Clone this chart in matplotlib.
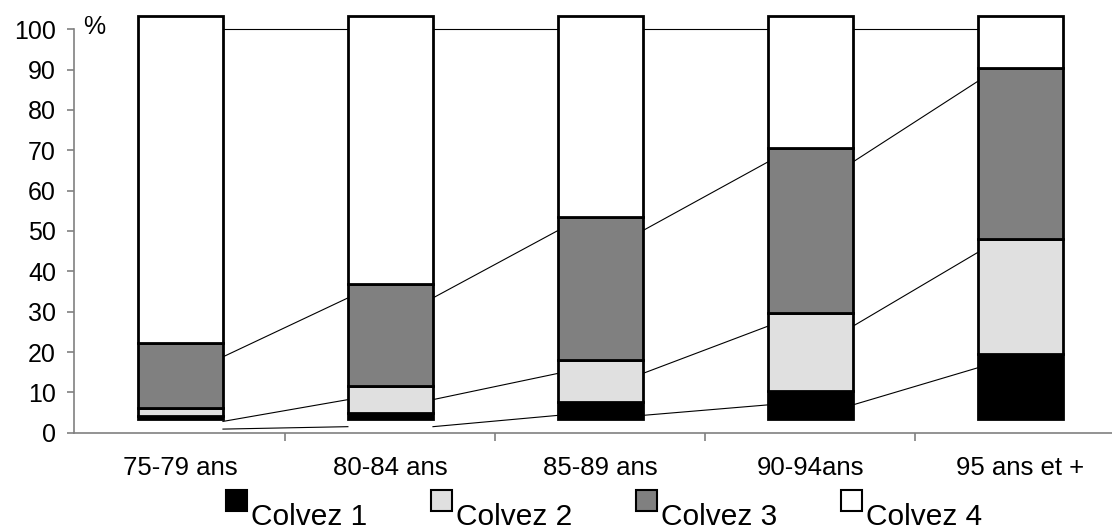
#!/usr/bin/env python3
"""Colvez dependency levels by age group, stacked bars with series lines."""

import numpy as np
import matplotlib
matplotlib.use('Agg')
import matplotlib.pyplot as plt
from matplotlib.patches import Rectangle

plt.rcParams['font.family'] = ['Liberation Sans', 'DejaVu Sans']

# Data (% per age group)
age_groups = ['75-79 ans', '80-84 ans', '85-89 ans', '90-94ans', '95 ans et +']
series_names = ['Colvez 1', 'Colvez 2', 'Colvez 3', 'Colvez 4']
colvez1 = [0.9, 1.5, 4.3, 6.9, 16.1]
colvez2 = [1.9, 6.7, 10.4, 19.5, 28.6]
colvez3 = [16.0, 25.2, 35.4, 40.7, 42.4]
colvez4 = [81.2, 66.6, 49.9, 32.9, 12.9]

# Style
COLORS = ['#000000', '#e0e0e0', '#808080', '#ffffff']
AXIS_GRAY = '#808080'
BAR_WIDTH = 0.405
DEPTH_OFFSET = 3.35   # excel draws the bars lifted off the axis


def generate():
    fig = plt.figure(figsize=(11.12, 5.29), dpi=100)
    ax = fig.add_axes([0.0665, 0.182, 0.9335, 0.801])

    values = np.array([colvez1, colvez2, colvez3, colvez4])
    x = np.arange(len(age_groups))
    cum = np.cumsum(values, axis=0)
    bottoms = cum - values

    for k in range(len(series_names)):
        ax.bar(x, values[k], width=BAR_WIDTH, bottom=bottoms[k] + DEPTH_OFFSET,
               color=COLORS[k], edgecolor='black', linewidth=2.0, zorder=3)

    # series lines between bars (at true values)
    for k in range(len(series_names)):
        for i in range(len(x) - 1):
            ax.plot([x[i] + BAR_WIDTH / 2, x[i + 1] - BAR_WIDTH / 2],
                    [cum[k][i], cum[k][i + 1]], color='black', linewidth=0.8,
                    zorder=2)

    ax.set_xlim(-0.507, 4.436)
    ax.set_ylim(0, 105)

    ax.spines['top'].set_visible(False)
    ax.spines['right'].set_visible(False)
    ax.spines['left'].set_color(AXIS_GRAY)
    ax.spines['bottom'].set_color(AXIS_GRAY)
    ax.spines['left'].set_bounds(0, 100)
    ax.spines['left'].set_linewidth(1.2)
    ax.spines['bottom'].set_linewidth(1.2)

    ax.set_yticks(np.arange(0, 101, 10))
    ax.tick_params(axis='y', direction='out', length=5, width=1.2,
                   color=AXIS_GRAY, labelsize=18, pad=8)

    ax.set_xticks(x)
    ax.set_xticklabels(age_groups, fontsize=18.5)
    ax.tick_params(axis='x', which='major', length=0, pad=17)
    ax.set_xticks(x[:-1] + 0.5, minor=True)
    ax.tick_params(axis='x', which='minor', direction='out', length=6,
                   width=1.2, color=AXIS_GRAY)

    ax.text(-0.41, 100.6, '%', fontsize=18, ha='center', va='center')

    # legend: small square up-left of each label
    sq_w = 21 / 1112
    sq_h = 21 / 529
    for k, name in enumerate(series_names):
        sx = (226 + 205 * k) / 1112
        fig.patches.append(Rectangle((sx, (529 - 511) / 529), sq_w, sq_h,
                                     transform=fig.transFigure,
                                     facecolor=COLORS[k], edgecolor='black',
                                     linewidth=1.5))
        fig.text((251 + 205 * k) / 1112, 4 / 529, name, fontsize=21.5,
                 ha='left', va='baseline')

    fig.savefig('out.png', dpi=100, facecolor='white')
    plt.close(fig)


if __name__ == '__main__':
    generate()
